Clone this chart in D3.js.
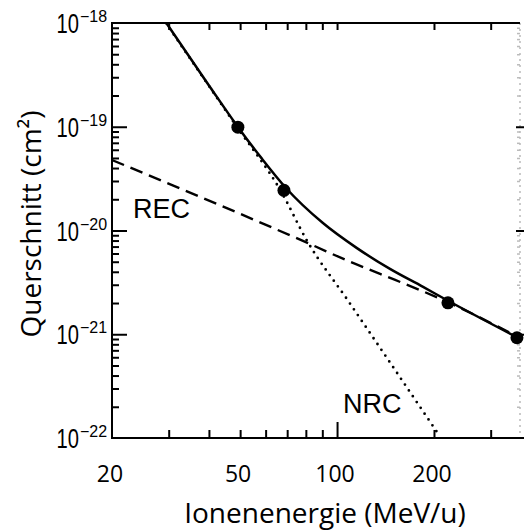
<!DOCTYPE html>
<html>
<head>
<meta charset="utf-8">
<script src="https://cdn.jsdelivr.net/npm/d3@7"></script>
<style>
  body { margin: 0; background: #fff; }
  svg { display: block; }
</style>
</head>
<body>
<div class="chart"></div>
<script>
// values (energy in MeV/u, cross section in cm^2)
let totalEnergy = [29.5, 40.3, 49.2, 58.5, 69.4, 90.4, 115, 146, 185, 219, 370];
let totalSigma = [1.0e-18, 2.42e-19, 9.96e-20, 4.9e-20, 2.57e-20, 1.18e-20, 6.8e-21, 4.26e-21, 2.86e-21, 2.14e-21, 9.04e-22];

let nrcEnergy = [29.4, 48.6, 67.0, 80.6, 108, 209];
let nrcSigma = [1.0e-18, 1.02e-19, 2.38e-20, 8.0e-21, 2.12e-21, 1.03e-22];

let recEnergy = [20, 83.6, 110, 136, 220, 370];
let recSigma = [4.78e-20, 7.26e-21, 4.98e-21, 3.82e-21, 2.05e-21, 9.2e-22];

let measEnergy = [49.2, 68.4, 221, 362];
let measSigma = [9.9e-20, 2.44e-20, 2.01e-21, 9.25e-22];

let xTickLabels = [20, 50, 100, 200];
let xMinorTicks = [30, 40, 50, 60, 70, 80, 90, 200, 300];
let xMajorTicks = [100];
let yExponents = [-18, -19, -20, -21, -22];

let svgWidth = 524;
let svgHeight = 531;

let plotLeft = 112, plotRight = 520, plotTop = 23, plotBottom = 438;

let svg = d3.select(".chart")
    .append("svg")
    .attr("width", svgWidth)
    .attr("height", svgHeight);

let x = d3.scaleLog().domain([20, 370]).range([plotLeft, plotRight]);
let y = d3.scaleLog().domain([1e-22, 1e-18]).range([plotBottom, plotTop]);

// minor y ticks: 2..9 in each decade
let yMajor = [1e-21, 1e-20, 1e-19];
let yMinor = [];
[-22, -21, -20, -19].forEach(e => {
    for (let m = 2; m <= 9; m++) yMinor.push(m * Math.pow(10, e));
});

function styleAxis(g) {
    g.select(".domain").remove();
    g.selectAll("line").attr("stroke", "#000").attr("stroke-width", 2);
}

// bottom ticks
svg.append("g").attr("transform", `translate(0,${plotBottom})`)
    .call(d3.axisBottom(x).tickValues(xMinorTicks).tickSize(-8).tickFormat(""))
    .call(styleAxis);
svg.append("g").attr("transform", `translate(0,${plotBottom})`)
    .call(d3.axisBottom(x).tickValues(xMajorTicks).tickSize(-16).tickFormat(""))
    .call(styleAxis);

// top ticks
svg.append("g").attr("transform", `translate(0,${plotTop})`)
    .call(d3.axisTop(x).tickValues([30, 40, 50, 60, 70, 80, 90, 100, 200, 300]).tickSize(-7).tickFormat(""))
    .call(styleAxis);

// left ticks
svg.append("g").attr("transform", `translate(${plotLeft},0)`)
    .call(d3.axisLeft(y).tickValues(yMinor).tickSize(-7).tickFormat(""))
    .call(styleAxis);
svg.append("g").attr("transform", `translate(${plotLeft},0)`)
    .call(d3.axisLeft(y).tickValues(yMajor).tickSize(-15).tickFormat(""))
    .call(styleAxis);

// right side is faint in the scan
svg.append("line")
    .attr("x1", plotRight).attr("x2", plotRight).attr("y1", plotTop).attr("y2", plotBottom)
    .attr("stroke", "#bbb").attr("stroke-width", 1.5).attr("stroke-dasharray", "2,4");
svg.append("g").attr("transform", `translate(${plotRight},0)`)
    .call(d3.axisLeft(y).tickValues(yMinor).tickSize(3).tickFormat(""))
    .call(g => { g.select(".domain").remove(); g.selectAll("line").attr("stroke", "#bbb").attr("stroke-width", 1.5); });
svg.append("g").attr("transform", `translate(${plotRight - 4},0)`)
    .call(d3.axisRight(y).tickValues(yMajor).tickSize(8).tickFormat(""))
    .call(styleAxis);

// frame
svg.append("line").attr("x1", plotLeft).attr("x2", plotLeft).attr("y1", plotTop - 1).attr("y2", plotBottom + 1)
    .attr("stroke", "#000").attr("stroke-width", 2);
svg.append("line").attr("x1", plotLeft).attr("x2", 524).attr("y1", plotBottom).attr("y2", plotBottom)
    .attr("stroke", "#000").attr("stroke-width", 2);
svg.append("line").attr("x1", plotLeft).attr("x2", plotRight).attr("y1", plotTop).attr("y2", plotTop)
    .attr("stroke", "#000").attr("stroke-width", 2);

// clip for the curves
svg.append("clipPath").attr("id", "plot")
    .append("rect").attr("x", plotLeft).attr("y", plotTop)
    .attr("width", plotRight - plotLeft).attr("height", plotBottom - plotTop);

let plot = svg.append("g").attr("clip-path", "url(#plot)");

function pairs(xs, ys) { return xs.map((d, i) => [d, ys[i]]); }

let line = d3.line()
    .x(d => x(d[0]))
    .y(d => y(d[1]))
    .curve(d3.curveMonotoneX);

plot.append("path")
    .datum(pairs(recEnergy, recSigma))
    .attr("d", line)
    .attr("fill", "none").attr("stroke", "#000").attr("stroke-width", 2.4)
    .attr("stroke-dasharray", "13,7");

plot.append("path")
    .datum(pairs(nrcEnergy, nrcSigma))
    .attr("d", line)
    .attr("fill", "none").attr("stroke", "#000").attr("stroke-width", 2.8)
    .attr("stroke-linecap", "round")
    .attr("stroke-dasharray", "0,7");

plot.append("path")
    .datum(pairs(totalEnergy, totalSigma))
    .attr("d", line)
    .attr("fill", "none").attr("stroke", "#000").attr("stroke-width", 2.5);

svg.selectAll("circle.meas")
    .data(pairs(measEnergy, measSigma))
    .enter()
    .append("circle")
    .classed("meas", true)
    .attr("cx", d => x(d[0]))
    .attr("cy", d => y(d[1]))
    .attr("r", 6.5)
    .attr("fill", "#000");

// curve labels
svg.append("text").attr("x", 133).attr("y", 218)
    .attr("font-family", "Liberation Sans, Arial, sans-serif").attr("font-size", 27)
    .text("REC");
svg.append("text").attr("x", 343).attr("y", 413)
    .attr("font-family", "Liberation Sans, Arial, sans-serif").attr("font-size", 27)
    .text("NRC");

// y tick labels: 10 with exponent
yExponents.forEach(e => {
    let ty = y(Math.pow(10, e));
    svg.append("g")
        .attr("transform", `translate(79,${ty + 10}) scale(0.72,1)`)
        .append("text")
        .attr("text-anchor", "end")
        .attr("font-family", "Liberation Sans, Arial, sans-serif")
        .attr("font-size", 28)
        .text("10");
    svg.append("text")
        .attr("x", 80).attr("y", ty - 1)
        .attr("font-family", "Liberation Sans, Arial, sans-serif")
        .attr("font-size", 16)
        .text("\u2212" + Math.abs(e));
});

// x tick labels
svg.selectAll("text.xlab")
    .data(xTickLabels)
    .enter()
    .append("text")
    .classed("xlab", true)
    .attr("x", d => x(d) - 2)
    .attr("y", 482)
    .attr("text-anchor", "middle")
    .attr("font-family", "Open Sans, sans-serif")
    .attr("font-size", 23)
    .text(d => d);

// axis titles
svg.append("text")
    .attr("x", 325).attr("y", 523)
    .attr("text-anchor", "middle")
    .attr("font-family", "Open Sans, sans-serif")
    .attr("font-size", 28)
    .text("Ionenenergie (MeV/u)");

svg.append("text")
    .attr("transform", "rotate(-90)")
    .attr("x", -224).attr("y", 41)
    .attr("text-anchor", "middle")
    .attr("font-family", "Open Sans, sans-serif")
    .attr("font-size", 28)
    .text("Querschnitt (cm²)");
</script>
</body>
</html>
